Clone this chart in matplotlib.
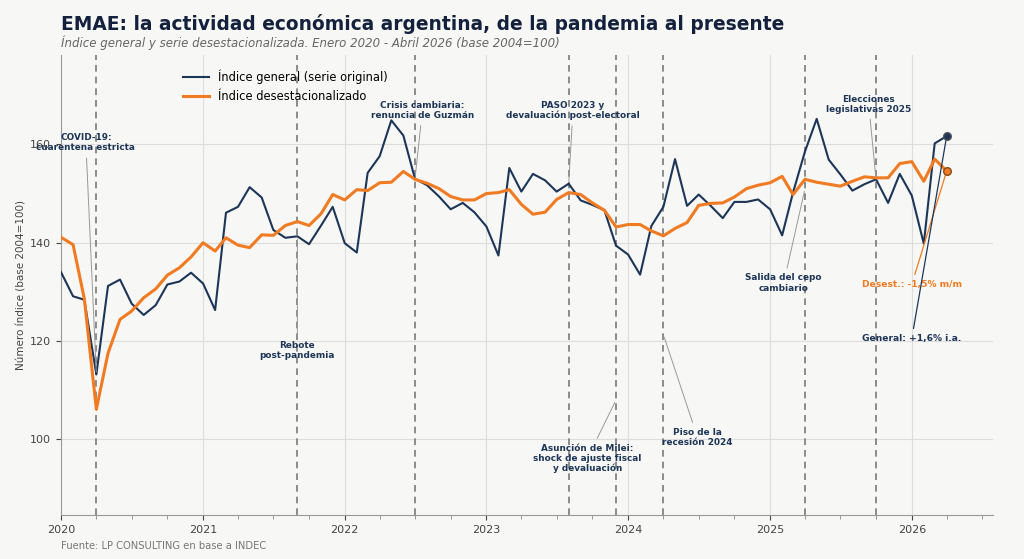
import matplotlib
matplotlib.use("Agg")
import matplotlib.pyplot as plt
import matplotlib.dates as mdates
import pandas as pd

NAVY = "#1d3557"
ORANGE = "#f07b22"
BG = "#f7f7f5"

fechas = pd.date_range("2020-01-01", "2026-04-01", freq="MS")

emae_original = [
    134.0, 129.1, 128.4, 113.2, 131.2, 132.5, 127.6, 125.3, 127.3, 131.5, 132.1, 133.9,
    131.7, 126.3, 146.1, 147.3, 151.3, 149.2, 142.6, 141.0, 141.3, 139.7, 143.5, 147.3,
    139.9, 138.0, 154.2, 157.6, 164.9, 161.8, 153.0, 151.7, 149.4, 146.8, 148.1, 146.2,
    143.3, 137.4, 155.2, 150.4, 154.0, 152.7, 150.4, 152.0, 148.6, 147.7, 146.6, 139.4,
    137.6, 133.5, 143.4, 147.3, 157.0, 147.5, 149.8, 147.5, 145.0, 148.3, 148.3, 148.8,
    146.8, 141.5, 150.2, 158.6, 165.2, 156.9, 153.9, 150.6, 151.9, 152.9, 148.1, 154.0,
    149.6, 139.8, 160.2, 161.7,
]

emae_desest = [
    141.1, 139.6, 128.6, 106.1, 117.5, 124.4, 126.1, 128.8, 130.6, 133.4, 134.9, 137.1,
    140.0, 138.3, 141.0, 139.5, 139.0, 141.6, 141.5, 143.5, 144.3, 143.5, 145.9, 149.8,
    148.7, 150.8, 150.6, 152.2, 152.3, 154.5, 152.9, 152.1, 151.0, 149.4, 148.7, 148.7,
    150.0, 150.2, 150.8, 147.8, 145.8, 146.2, 148.8, 150.2, 149.8, 148.1, 146.6, 143.2,
    143.7, 143.7, 142.4, 141.4, 142.9, 144.1, 147.6, 148.0, 148.1, 149.3, 151.0, 151.7,
    152.2, 153.5, 149.8, 152.9, 152.3, 151.9, 151.5, 152.5, 153.4, 153.2, 153.2, 156.1,
    156.5, 152.5, 157.0, 154.6,
]

# eventos: fecha, texto, punto señalado (valor), posición del texto (fecha, valor)
eventos_fecha = ["2020-04-01", "2021-09-01", "2022-07-01", "2023-08-01",
                 "2023-12-01", "2024-04-01", "2025-04-01", "2025-10-01"]
eventos_texto = [
    "COVID-19:\ncuarentena estricta",
    "Rebote\npost-pandemia",
    "Crisis cambiaria:\nrenuncia de Guzmán",
    "PASO 2023 y\ndevaluación post-electoral",
    "Asunción de Milei:\nshock de ajuste fiscal\ny devaluación",
    "Piso de la\nrecesión 2024",
    "Salida del cepo\ncambiario",
    "Elecciones\nlegislativas 2025",
]
eventos_valor = [113.2, 141.3, 153.0, 152.0, 108.0, 121.3, 151.0, 152.8]
eventos_texto_fecha = ["2020-03-05", "2021-09-01", "2022-07-20", "2023-08-12",
                       "2023-09-18", "2024-06-28", "2025-02-05", "2025-09-12"]
eventos_texto_valor = [160.3, 118.1, 166.9, 166.9, 96.1, 100.4, 131.8, 168.2]

plt.rcParams["font.family"] = ["DejaVu Sans"]

fig = plt.figure(figsize=(10.24, 5.59), dpi=100, facecolor=BG)
ax = fig.add_axes([0.0596, 0.0787, 0.9104, 0.823], facecolor=BG)

ax.plot(fechas, emae_original, color=NAVY, lw=1.5, label="Índice general (serie original)", zorder=3)
ax.plot(fechas, emae_desest, color=ORANGE, lw=2.2, label="Índice desestacionalizado", zorder=3)

for f in eventos_fecha:
    ax.axvline(pd.Timestamp(f), color="#7a7a7a", lw=1.2, ls=(0, (4, 3)), zorder=2)

for f, txt, v, tf, tv in zip(eventos_fecha, eventos_texto, eventos_valor,
                             eventos_texto_fecha, eventos_texto_valor):
    ax.annotate(txt, xy=(pd.Timestamp(f), v), xytext=(pd.Timestamp(tf), tv),
                ha="center", va="center", fontsize=6.4, fontweight="bold", color=NAVY,
                linespacing=1.15,
                arrowprops=dict(arrowstyle="-", color="#999999", lw=0.7), zorder=4)

ultimo = fechas[-1]
ax.scatter([ultimo], [emae_original[-1]], s=30, color=NAVY, edgecolor="#555555", zorder=5)
ax.scatter([ultimo], [emae_desest[-1]], s=30, color=ORANGE, edgecolor="#8a4a1a", zorder=5)

var_mm = (emae_desest[-1] / emae_desest[-2] - 1) * 100
ax.annotate("Desest.: " + f"{var_mm:.1f}".replace(".", ",") + "% m/m",
            xy=(ultimo, emae_desest[-1]), xytext=(pd.Timestamp("2026-01-01"), 131.5),
            ha="center", va="center", fontsize=6.6, fontweight="bold", color=ORANGE,
            arrowprops=dict(arrowstyle="-", color=ORANGE, lw=0.9), zorder=4)
ax.annotate("General: +1,6% i.a.",
            xy=(ultimo, emae_original[-1]), xytext=(pd.Timestamp("2026-01-01"), 120.5),
            ha="center", va="center", fontsize=6.6, fontweight="bold", color=NAVY,
            arrowprops=dict(arrowstyle="-", color=NAVY, lw=0.9), zorder=4)

ax.set_xlim(pd.Timestamp("2020-01-01"), ultimo + pd.Timedelta(days=120))
ax.set_ylim(84.6, 178.2)
ax.set_yticks([100, 120, 140, 160])
ax.xaxis.set_major_locator(mdates.YearLocator())
ax.xaxis.set_major_formatter(mdates.DateFormatter("%Y"))
ax.xaxis.set_minor_locator(mdates.MonthLocator(bymonth=[4, 7, 10]))
ax.tick_params(axis="both", labelsize=8, colors="#444444")
ax.tick_params(axis="x", which="minor", length=3, color="#888888")
ax.grid(True, color="#dddddd", lw=0.8, zorder=0)
for s in ["top", "right"]:
    ax.spines[s].set_visible(False)
for s in ["left", "bottom"]:
    ax.spines[s].set_color("#999999")
ax.set_ylabel("Número índice (base 2004=100)", fontsize=7.5, color="#444444", labelpad=3)

ax.legend(loc="upper left", bbox_to_anchor=(0.12, 0.99), frameon=False, fontsize=8.3,
          handlelength=2.2)

fig.text(0.0596, 0.975, "EMAE: la actividad económica argentina, de la pandemia al presente",
         fontsize=13.4, fontweight="bold", color="#14213d", va="top")
fig.text(0.0596, 0.937, "Índice general y serie desestacionalizada. Enero 2020 - Abril 2026 (base 2004=100)",
         fontsize=8.5, style="italic", color="#666666", va="top")
fig.text(0.0596, 0.018, "Fuente: LP CONSULTING en base a INDEC", fontsize=7.2, color="#777777")

fig.savefig("out.png", dpi=100, facecolor=BG)
